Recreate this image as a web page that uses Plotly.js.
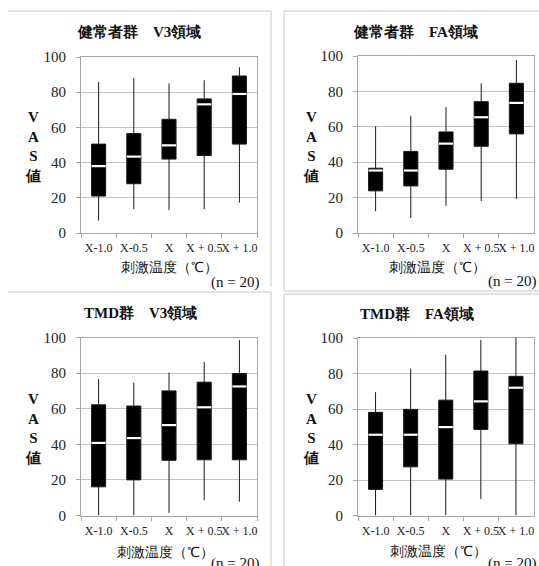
<!DOCTYPE html>
<html>
<head>
<meta charset="utf-8">
<script src="https://cdn.plot.ly/plotly-3.0.1.min.js"></script>
<style>html,body{margin:0;padding:0;background:#fff;}#chart{width:539px;height:566px;}</style>
</head>
<body>
<div id="chart"></div>
<script>
// ---- data ----
const categories = ["X-1.0", "X-0.5", "X", "X + 0.5", "X + 1.0"];
const panelTitles = ["健常者群　V3領域", "健常者群　FA領域", "TMD群　V3領域", "TMD群　FA領域"];
const yTitle = "V<br>A<br>S<br>値";
const xTitle = "刺激温度（℃）";
const nNote = "(n = 20)";
const yTicks = [0, 20, 40, 60, 80, 100];

// 健常者群 V3
const hV3Min = [7.0, 13.5, 13.0, 13.5, 17.3];
const hV3Q1  = [21.0, 28.0, 42.0, 44.0, 50.5];
const hV3Med = [38.0, 43.4, 49.8, 73.1, 79.0];
const hV3Q3  = [50.5, 56.5, 64.6, 76.2, 89.2];
const hV3Max = [85.8, 88.1, 85.0, 86.8, 94.2];

// 健常者群 FA
const hFAMin = [12.3, 8.5, 15.4, 18.0, 19.2];
const hFAQ1  = [23.8, 26.6, 36.0, 49.0, 56.0];
const hFAMed = [35.3, 35.3, 50.5, 65.4, 73.5];
const hFAQ3  = [36.6, 46.1, 57.1, 74.2, 84.6];
const hFAMax = [60.3, 66.2, 71.1, 84.6, 97.8];

// TMD群 V3
const tV3Min = [0.0, 0.0, 1.5, 8.6, 7.8];
const tV3Q1  = [16.1, 20.0, 31.0, 31.3, 31.3];
const tV3Med = [40.8, 43.5, 50.8, 60.8, 72.5];
const tV3Q3  = [62.2, 61.5, 70.0, 74.9, 79.8];
const tV3Max = [76.6, 74.7, 80.3, 86.3, 98.5];

// TMD群 FA
const tFAMin = [0.0, 0.0, 0.0, 9.4, 0.0];
const tFAQ1  = [14.7, 27.4, 20.5, 48.5, 40.4];
const tFAMed = [45.5, 45.5, 49.8, 64.3, 72.0];
const tFAQ3  = [58.1, 59.8, 65.0, 81.4, 78.4];
const tFAMax = [69.5, 82.7, 90.6, 98.9, 100.0];

const panelsData = [
  [hV3Min, hV3Q1, hV3Med, hV3Q3, hV3Max],
  [hFAMin, hFAQ1, hFAMed, hFAQ3, hFAMax],
  [tV3Min, tV3Q1, tV3Med, tV3Q3, tV3Max],
  [tFAMin, tFAQ1, tFAMed, tFAQ3, tFAMax]
];

// ---- layout helpers (pixel -> paper) ----
const W = 539, H = 566;
const px = x => x / W;
const py = y => 1 - y / H;

const FONT = "Liberation Serif";
const plotBoxes = [
  {x0: 81, x1: 257, y0: 57, y1: 233},
  {x0: 358, x1: 534, y0: 56, y1: 233},
  {x0: 81, x1: 257, y0: 337.5, y1: 515.5},
  {x0: 358, x1: 533.5, y0: 338, y1: 515.5}
];
const titlePos = [[139, 32], [415, 32], [140, 313], [417, 314]];
const yTitlePos = [[33, 146], [311, 146], [33, 429], [311, 429]];
const xTitlePos = [[169, 267], [437, 267], [165, 552], [438, 551]];
const nPos = [[261, 282], [538, 281], [261, 563], [538, 563]];

const traces = [];
const layout = {
  width: W, height: H,
  margin: {l: 0, r: 0, t: 0, b: 0},
  paper_bgcolor: "#ffffff",
  plot_bgcolor: "#ffffff",
  showlegend: false,
  hovermode: false,
  font: {family: FONT},
  annotations: [],
  shapes: []
};

panelsData.forEach((d, i) => {
  const k = i === 0 ? "" : String(i + 1);
  const [mn, q1, med, q3, mx] = d;
  traces.push({
    type: "box",
    xaxis: "x" + k, yaxis: "y" + k,
    x: categories,
    q1: q1, median: med, q3: q3,
    lowerfence: mn, upperfence: mx,
    boxpoints: false,
    width: 0.4,
    whiskerwidth: 0,
    fillcolor: "#000000",
    line: {color: "#1a1a1a", width: 1}
  });
  traces.push({
    type: "scatter", mode: "markers",
    xaxis: "x" + k, yaxis: "y" + k,
    x: categories, y: med,
    marker: {symbol: "line-ew", size: 10, color: "#ffffff",
             line: {color: "#ffffff", width: 2.2}},
    cliponaxis: false
  });
  const b = plotBoxes[i];
  layout["xaxis" + k] = {
    domain: [px(b.x0), px(b.x1)],
    anchor: "y" + k,
    type: "category",
    categoryorder: "array", categoryarray: categories,
    range: [-0.5, 4.5],
    tickson: "boundaries",
    tickangle: 0,
    ticks: "outside", ticklen: 4, tickcolor: "#a6a6a6",
    ticklabelstandoff: 4,
    showline: true, linecolor: "#a6a6a6", linewidth: 1, mirror: true,
    showgrid: false, zeroline: false,
    tickfont: {family: FONT, size: 12, color: "#222"},
    fixedrange: true
  };
  layout["yaxis" + k] = {
    domain: [py(b.y1), py(b.y0)],
    anchor: "x" + k,
    range: [0, 100],
    tickvals: yTicks,
    ticks: "outside", ticklen: 4, tickcolor: "#a6a6a6",
    ticklabelstandoff: 7,
    showline: true, linecolor: "#a6a6a6", linewidth: 1, mirror: true,
    showgrid: true, gridcolor: "#c4c4c4", gridwidth: 1,
    zeroline: false,
    tickfont: {family: FONT, size: 15, color: "#222"},
    fixedrange: true
  };
  layout.annotations.push({
    xref: "paper", yref: "paper",
    x: px(titlePos[i][0]), y: py(titlePos[i][1]),
    xanchor: "center", yanchor: "middle", showarrow: false,
    text: "<b>" + panelTitles[i] + "</b>",
    font: {family: FONT, size: 15, color: "#111"}
  });
  layout.annotations.push({
    xref: "paper", yref: "paper",
    x: px(yTitlePos[i][0]), y: py(yTitlePos[i][1]),
    xanchor: "center", yanchor: "middle", showarrow: false,
    text: "<b>" + yTitle + "</b>",
    font: {family: FONT, size: 15, color: "#111"}
  });
  layout.annotations.push({
    xref: "paper", yref: "paper",
    x: px(xTitlePos[i][0]), y: py(xTitlePos[i][1]),
    xanchor: "center", yanchor: "middle", showarrow: false,
    text: xTitle,
    font: {family: FONT, size: 14, color: "#111"}
  });
  layout.annotations.push({
    xref: "paper", yref: "paper",
    x: px(nPos[i][0]), y: py(nPos[i][1]),
    xanchor: "right", yanchor: "middle", showarrow: false,
    text: nNote,
    font: {family: FONT, size: 15, color: "#111"}
  });
});

// panel frames
const frameLine = {color: "#c8c8c8", width: 1};
const seg = (x0, y0, x1, y1) => ({type: "line", xref: "paper", yref: "paper",
  x0: px(x0), y0: py(y0), x1: px(x1), y1: py(y1), line: frameLine, layer: "below"});
layout.shapes.push(
  seg(8, 11, 271, 11), seg(271, 11, 271, 287),
  seg(284, 11, 539, 11), seg(284, 11, 284, 291), seg(284, 291, 539, 291),
  seg(8, 292, 271, 292), seg(271, 292, 271, 566),
  seg(284, 294, 539, 294), seg(284, 294, 284, 566)
);

Plotly.newPlot("chart", traces, layout, {staticPlot: true, displayModeBar: false});
</script>
</body>
</html>
